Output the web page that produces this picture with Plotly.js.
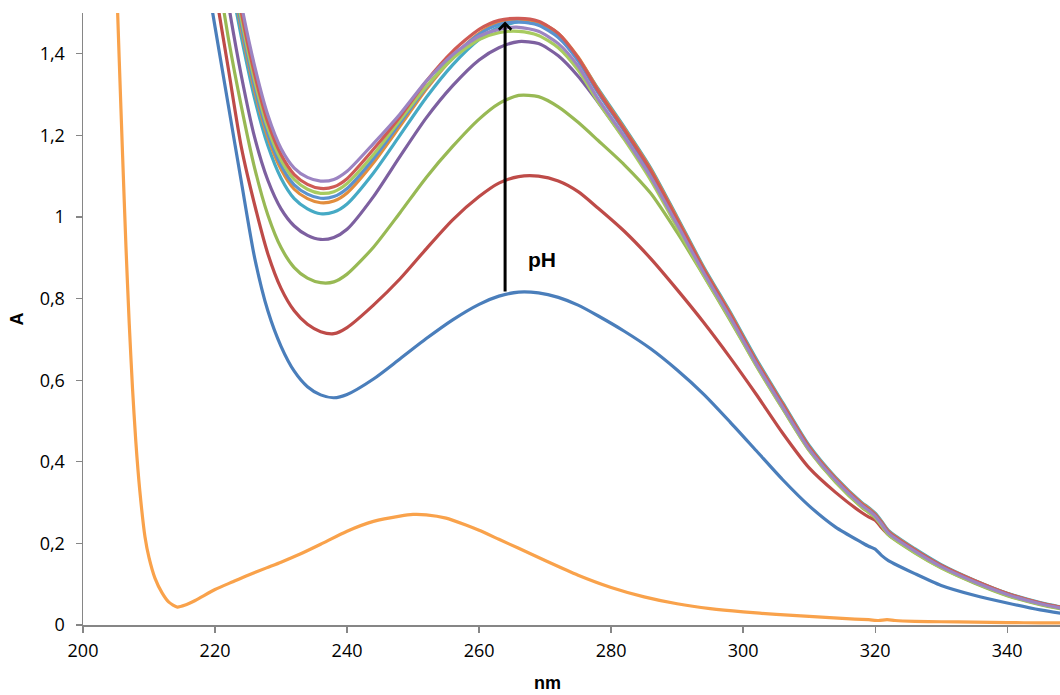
<!DOCTYPE html>
<html>
<head>
<meta charset="utf-8">
<script src="https://cdn.plot.ly/plotly-3.0.1.min.js"></script>
<style>
html,body{margin:0;padding:0;background:#ffffff;}
#chart{width:1060px;height:695px;}
</style>
</head>
<body>
<div id="chart"></div>
<script>
// Wavelength grid (nm) for the pH-series spectra
const wl = [216,218,220,222,224,226,228,230,232,234,236,238,240,244,248,252,256,260,263,266,269,272,275,278,282,286,290,294,298,302,306,310,314,318,319,320,321,322,326,330,335,340,345,350];

// Absorbance of each pH spectrum
const absBlue = [1.86,1.66,1.466,1.275,1.085,0.9,0.77,0.683,0.622,0.584,0.564,0.557,0.565,0.603,0.652,0.702,0.748,0.786,0.806,0.816,0.814,0.803,0.784,0.758,0.72,0.677,0.625,0.566,0.498,0.427,0.356,0.292,0.24,0.202,0.193,0.186,0.17,0.158,0.126,0.097,0.073,0.054,0.037,0.024];
const absRed = [1.96,1.76,1.56,1.365,1.17,1.03,0.91,0.825,0.77,0.737,0.719,0.714,0.729,0.784,0.848,0.922,0.993,1.05,1.083,1.099,1.1,1.088,1.062,1.022,0.965,0.898,0.822,0.742,0.656,0.565,0.47,0.385,0.325,0.275,0.265,0.257,0.238,0.222,0.18,0.142,0.106,0.077,0.053,0.036];
const absGreen = [2.05,1.85,1.64,1.44,1.27,1.12,1.005,0.925,0.876,0.85,0.839,0.841,0.86,0.926,1.01,1.097,1.173,1.24,1.278,1.298,1.295,1.27,1.232,1.188,1.128,1.058,0.962,0.857,0.748,0.636,0.53,0.428,0.35,0.288,0.276,0.263,0.243,0.221,0.177,0.14,0.103,0.072,0.05,0.034];
const absPurple = [2.15,1.94,1.73,1.525,1.345,1.195,1.09,1.02,0.978,0.955,0.945,0.95,0.97,1.05,1.148,1.243,1.322,1.385,1.415,1.43,1.425,1.395,1.345,1.282,1.192,1.1,0.985,0.862,0.752,0.64,0.533,0.432,0.355,0.292,0.28,0.267,0.247,0.224,0.18,0.143,0.105,0.075,0.052,0.036];
const absTeal = [2.2,1.99,1.8,1.61,1.44,1.29,1.175,1.095,1.045,1.02,1.008,1.012,1.032,1.108,1.2,1.293,1.373,1.435,1.465,1.478,1.472,1.445,1.39,1.315,1.22,1.12,1.0,0.878,0.768,0.652,0.545,0.44,0.362,0.3,0.288,0.274,0.254,0.232,0.187,0.148,0.11,0.078,0.055,0.038];
const absOrange = [2.23,2.02,1.82,1.63,1.46,1.31,1.195,1.117,1.068,1.045,1.035,1.039,1.059,1.133,1.222,1.313,1.39,1.45,1.476,1.485,1.478,1.45,1.392,1.313,1.217,1.117,0.997,0.875,0.765,0.648,0.542,0.437,0.36,0.298,0.286,0.272,0.252,0.23,0.185,0.146,0.109,0.077,0.054,0.037];
const absBlue2 = [2.25,2.04,1.84,1.645,1.47,1.32,1.205,1.127,1.079,1.056,1.046,1.05,1.07,1.143,1.23,1.318,1.393,1.448,1.472,1.478,1.47,1.44,1.383,1.305,1.21,1.11,0.99,0.87,0.76,0.644,0.538,0.434,0.357,0.295,0.283,0.27,0.25,0.228,0.183,0.145,0.108,0.076,0.053,0.036];
const absGreen2 = [2.27,2.06,1.86,1.66,1.485,1.335,1.218,1.14,1.092,1.068,1.058,1.062,1.082,1.153,1.237,1.32,1.388,1.435,1.452,1.455,1.445,1.415,1.36,1.283,1.19,1.09,0.975,0.858,0.75,0.635,0.53,0.428,0.352,0.29,0.278,0.264,0.244,0.222,0.178,0.14,0.104,0.073,0.051,0.035];
const absRed2 = [2.29,2.08,1.88,1.68,1.5,1.35,1.232,1.153,1.104,1.08,1.07,1.074,1.094,1.166,1.245,1.333,1.406,1.46,1.482,1.487,1.48,1.45,1.39,1.31,1.214,1.114,0.994,0.873,0.763,0.646,0.54,0.436,0.358,0.296,0.284,0.27,0.25,0.228,0.184,0.146,0.109,0.077,0.054,0.037];
const absPurple2 = [2.31,2.1,1.9,1.7,1.52,1.37,1.25,1.168,1.12,1.097,1.088,1.092,1.112,1.18,1.252,1.333,1.398,1.443,1.46,1.465,1.455,1.425,1.37,1.29,1.197,1.098,0.982,0.864,0.755,0.64,0.534,0.431,0.355,0.293,0.281,0.267,0.247,0.225,0.181,0.143,0.106,0.075,0.052,0.036];

// Reference (low) spectrum
const wlRef = [204,205,205.5,206,206.5,207,207.5,208,208.6,209.4,210,210.9,212,213,214.3,215.5,217,220,222.7,225,227.8,230,232.9,236,240,244,248,250,252,255,258,260,263,266,270,275,280,285,290,295,300,305,310,315,319,320.5,321.8,323,326,330,335,340,345,350];
const absRef = [2.1,1.62,1.38,1.15,0.93,0.74,0.58,0.45,0.33,0.215,0.165,0.115,0.078,0.056,0.044,0.049,0.06,0.087,0.106,0.122,0.14,0.154,0.174,0.198,0.23,0.254,0.267,0.271,0.27,0.262,0.245,0.232,0.21,0.188,0.158,0.122,0.092,0.069,0.052,0.04,0.032,0.026,0.021,0.016,0.013,0.011,0.013,0.011,0.009,0.008,0.007,0.006,0.005,0.005];

const xTicks = [200,220,240,260,280,300,320,340];
const yTicks = [0,0.2,0.4,0.6,0.8,1,1.2,1.4];

const series = [
  {name:'pH 1', y:absBlue, color:'#4A7EBB'},
  {name:'pH 2', y:absRed, color:'#BE4B48'},
  {name:'pH 3', y:absGreen, color:'#98B954'},
  {name:'pH 4', y:absPurple, color:'#7D60A0'},
  {name:'pH 5', y:absTeal, color:'#46AAC5'},
  {name:'pH 6', y:absOrange, color:'#E28D3D'},
  {name:'pH 7', y:absBlue2, color:'#5A92CF'},
  {name:'pH 8', y:absGreen2, color:'#A8CB60'},
  {name:'pH 9', y:absRed2, color:'#CF5B55'},
  {name:'pH 10', y:absPurple2, color:'#9C84C2'}
];

const traces = [{
  type:'scatter', mode:'lines', name:'ref', x:wlRef, y:absRef,
  line:{color:'#F9A24B', width:3.2, shape:'spline', smoothing:0.6}, hoverinfo:'skip'
}].concat(series.map(s => ({
  type:'scatter', mode:'lines', name:s.name, x:wl, y:s.y,
  line:{color:s.color, width:3.2, shape:'spline', smoothing:0.7}, hoverinfo:'skip'
})));

const axisFont = {family:'Open Sans, Liberation Sans, sans-serif', size:18, color:'#000'};

const layout = {
  width:1060, height:695,
  margin:{l:83, r:0, t:13, b:70, pad:0},
  paper_bgcolor:'#ffffff', plot_bgcolor:'#ffffff',
  separators:', ',
  showlegend:false,
  font:axisFont,
  xaxis:{
    range:[200,348], tickmode:'array', tickvals:xTicks,
    showgrid:false, zeroline:false, showline:true,
    linecolor:'#868686', linewidth:1.5,
    ticks:'outside', ticklen:6, tickwidth:1.3, tickcolor:'#868686',
    tickfont:axisFont, ticklabelstandoff:3
  },
  yaxis:{
    range:[0,1.5], tickmode:'array', tickvals:yTicks,
    showgrid:false, zeroline:false, showline:true,
    linecolor:'#868686', linewidth:1.5,
    ticks:'outside', ticklen:6, tickwidth:1.3, tickcolor:'#868686',
    tickfont:axisFont, ticklabelstandoff:7,
    title:{text:'<b>A</b>', font:{family:'Liberation Sans, Arial, sans-serif', size:18, color:'#000'}, standoff:11}
  },
  annotations:[
    {x:263.94, y:1.479, ax:263.94, ay:0.814, xref:'x', yref:'y', axref:'x', ayref:'y',
     showarrow:true, arrowhead:4, arrowsize:0.8, arrowwidth:3, arrowcolor:'#000', text:''},
    {x:269.6, y:0.897, xref:'x', yref:'y', showarrow:false, text:'<b>pH</b>',
     font:{family:'Liberation Sans, Arial, sans-serif', size:21, color:'#000'}},
    {x:0.475, y:-0.095, xref:'paper', yref:'paper', showarrow:false, text:'<b>nm</b>',
     yanchor:'middle', font:{family:'Liberation Sans, Arial, sans-serif', size:18, color:'#000'}}
  ]
};

Plotly.newPlot('chart', traces, layout, {displayModeBar:false, staticPlot:true});
</script>
</body>
</html>
